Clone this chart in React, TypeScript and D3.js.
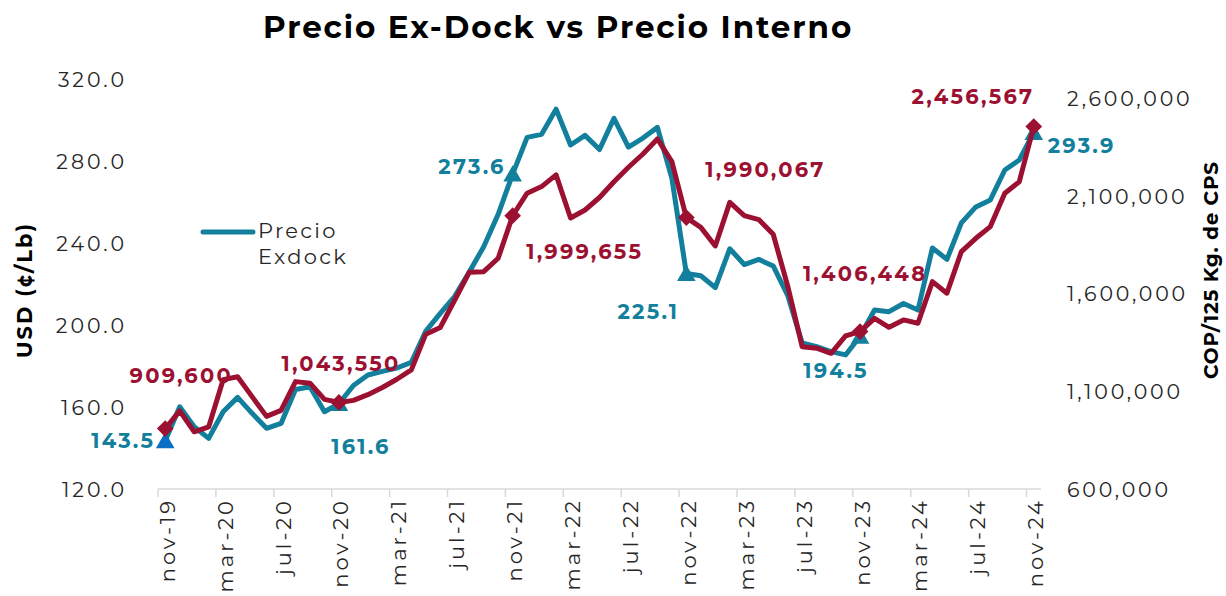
import * as d3 from "d3"

// monthly categories, nov-19 .. nov-24
const months = [
  "nov-19", "dic-19", "ene-20", "feb-20", "mar-20", "abr-20", "may-20", "jun-20", "jul-20", "ago-20", "sep-20", "oct-20",
  "nov-20", "dic-20", "ene-21", "feb-21", "mar-21", "abr-21", "may-21", "jun-21", "jul-21", "ago-21", "sep-21", "oct-21",
  "nov-21", "dic-21", "ene-22", "feb-22", "mar-22", "abr-22", "may-22", "jun-22", "jul-22", "ago-22", "sep-22", "oct-22",
  "nov-22", "dic-22", "ene-23", "feb-23", "mar-23", "abr-23", "may-23", "jun-23", "jul-23", "ago-23", "sep-23", "oct-23",
  "nov-23", "dic-23", "ene-24", "feb-24", "mar-24", "abr-24", "may-24", "jun-24", "jul-24", "ago-24", "sep-24", "oct-24",
  "nov-24",
]

// Precio Exdock, USD (¢/Lb)
const exdock = [
  143.5, 160.1, 150.4, 144.7, 157.7, 164.7, 156.9, 149.6, 152.0, 168.5, 169.9, 157.7,
  161.6, 170.5, 175.6, 177.4, 179.0, 181.8, 197.0, 205.7, 214.0, 225.8, 238.2, 254.0,
  273.6, 291.5, 293.0, 305.3, 287.8, 292.5, 285.6, 300.8, 286.8, 291.2, 296.4, 271.5,
  225.1, 224.0, 218.2, 237.2, 229.5, 232.0, 228.8, 214.5, 191.2, 189.4, 187.0, 185.4,
  194.5, 207.3, 206.5, 210.5, 207.3, 237.6, 232.0, 249.8, 257.6, 261.0, 275.6, 280.5,
  293.9,
]

// Precio interno, COP/125 Kg. de CPS
const interno = [
  909600, 1000000, 893000, 918000, 1160000, 1175000, 1073000, 972000, 1003000, 1150000, 1142000, 1059000,
  1043550, 1054000, 1083000, 1120000, 1162000, 1210000, 1393000, 1427000, 1568000, 1710000, 1713000, 1782000,
  1999655, 2115000, 2149000, 2209000, 1988000, 2029000, 2093000, 2174000, 2248000, 2316000, 2393000, 2277000,
  1990067, 1940000, 1845000, 2068000, 2000000, 1980000, 1905000, 1640000, 1329000, 1321000, 1295000, 1384000,
  1406448, 1474000, 1428000, 1466000, 1449000, 1662000, 1603000, 1816000, 1884000, 1944000, 2115000, 2174000,
  2456567,
]

const leftTicks = [120, 160, 200, 240, 280, 320]
const rightTicks = [600000, 1100000, 1600000, 2100000, 2600000]
const xLabelMonths = ["nov-19", "mar-20", "jul-20", "nov-20", "mar-21", "jul-21", "nov-21", "mar-22", "jul-22", "nov-22", "mar-23", "jul-23", "nov-23", "mar-24", "jul-24", "nov-24"]

// points that carry a marker + data label
const markedIdx = [0, 12, 24, 36, 48, 60]

// label placement relative to the point (dx, dy, anchor)
const blueLabelPos: [number, number, string][] = [
  [-10, 0, "end"], [22, 43, "middle"], [-7, -8, "end"], [-38, 38, "middle"], [-24, 34, "middle"], [14, 13, "start"],
]
const redLabelPos: [number, number, string][] = [
  [16, -53, "middle"], [2, -39, "middle"], [72, 36, "middle"], [79, -48, "middle"], [5, -58, "middle"], [-61, -30, "middle"],
]

const BLUE = "#127f9d"
const RED = "#9c1132"
const TEXT = "#262626"
const FONT = "Montserrat, 'Open Sans', sans-serif"

export default function App() {
  const width = 1226
  const height = 596

  const x = d3.scaleBand<string>().domain(months).range([158, 1041]).padding(0)
  const cx = (m: string) => (x(m) as number) + x.bandwidth() / 2

  const yL = d3.scaleLinear().domain([120, 320]).range([489, 79])
  const yR = d3.scaleLinear().domain([600000, 2700000]).range([489, 79])

  const lineL = d3
    .line<number>()
    .x((_, i) => cx(months[i]))
    .y((d) => yL(d))
  const lineR = d3
    .line<number>()
    .x((_, i) => cx(months[i]))
    .y((d) => yR(d))

  const tri = d3.symbol().type(d3.symbolTriangle).size(150)()
  const sq = d3.symbol().type(d3.symbolSquare).size(140)()

  const fmtL = d3.format(".1f")
  const fmtR = d3.format(",")

  return (
    <div style={{ position: "fixed", left: 0, top: 0 }}>
      <svg width={width} height={height} style={{ display: "block", background: "#fff" }} fontFamily={FONT}>
        {/* title */}
        <text x={558} y={27} textAnchor="middle" dominantBaseline="central" fontSize={31} fontWeight={700} fill="#000" letterSpacing={1.9}>
          Precio Ex-Dock vs Precio Interno
        </text>

        {/* left axis labels */}
        {leftTicks.map((t) => (
          <text key={t} x={127} y={yL(t)} textAnchor="end" dominantBaseline="central" fontSize={20.5} fill={TEXT} letterSpacing={3}>
            {fmtL(t)}
          </text>
        ))}

        {/* right axis labels */}
        {rightTicks.map((t) => (
          <text key={t} x={1067} y={yR(t)} textAnchor="start" dominantBaseline="central" fontSize={20.5} fill={TEXT} letterSpacing={2.8}>
            {fmtR(t)}
          </text>
        ))}

        {/* axis titles */}
        <text transform="translate(24,290) rotate(-90)" textAnchor="middle" dominantBaseline="central" fontSize={21} fontWeight={700} fill="#000" letterSpacing={2}>
          USD (¢/Lb)
        </text>
        <text transform="translate(1211,270) rotate(-90)" textAnchor="middle" dominantBaseline="central" fontSize={20} fontWeight={700} fill="#000" letterSpacing={0.8}>
          COP/125 Kg. de CPS
        </text>

        {/* x axis */}
        <line x1={158} x2={1041} y1={489} y2={489} stroke="#d9d9d9" strokeWidth={1.5} />
        {months.map((m, i) =>
          i % 4 === 0 ? <line key={m} x1={x(m) as number} x2={x(m) as number} y1={489} y2={497} stroke="#d9d9d9" strokeWidth={1.5} /> : null
        )}
        {xLabelMonths.map((m) => (
          <text key={m} transform={`translate(${cx(m) + 2},498) rotate(-90)`} textAnchor="end" dominantBaseline="central" fontSize={21} fill={TEXT} letterSpacing={3}>
            {m}
          </text>
        ))}

        {/* legend */}
        <line x1={203} x2={253} y1={232} y2={232} stroke={BLUE} strokeWidth={5} strokeLinecap="round" />
        <text x={258} y={230} dominantBaseline="central" fontSize={21} fill={TEXT} letterSpacing={2.3}>
          Precio
        </text>
        <text x={258} y={256} dominantBaseline="central" fontSize={21} fill={TEXT} letterSpacing={2.3}>
          Exdock
        </text>

        {/* Exdock series */}
        <path d={lineL(exdock) as string} fill="none" stroke={BLUE} strokeWidth={5} strokeLinejoin="round" strokeLinecap="round" />
        {markedIdx.map((i, k) => (
          <path key={i} d={tri as string} transform={`translate(${cx(months[i])},${yL(exdock[i]) + 2})`} fill={k === 0 ? "#0a6fc2" : BLUE} />
        ))}

        {/* Interno series */}
        <path d={lineR(interno) as string} fill="none" stroke={RED} strokeWidth={5} strokeLinejoin="round" strokeLinecap="round" />
        {markedIdx.map((i) => (
          <path key={i} d={sq as string} transform={`translate(${cx(months[i])},${yR(interno[i])}) rotate(45)`} fill={RED} />
        ))}

        {/* data labels */}
        {markedIdx.map((i, k) => (
          <text
            key={"b" + i}
            x={cx(months[i]) + blueLabelPos[k][0]}
            y={yL(exdock[i]) + blueLabelPos[k][1]}
            textAnchor={blueLabelPos[k][2] as any}
            dominantBaseline="central"
            fontSize={21}
            fontWeight={700}
            fill={BLUE}
            letterSpacing={2.2}
          >
            {fmtL(exdock[i])}
          </text>
        ))}
        {markedIdx.map((i, k) => (
          <text
            key={"r" + i}
            x={cx(months[i]) + redLabelPos[k][0]}
            y={yR(interno[i]) + redLabelPos[k][1]}
            textAnchor={redLabelPos[k][2] as any}
            dominantBaseline="central"
            fontSize={21}
            fontWeight={700}
            fill={RED}
            letterSpacing={2.2}
          >
            {fmtR(interno[i])}
          </text>
        ))}
      </svg>
    </div>
  )
}
